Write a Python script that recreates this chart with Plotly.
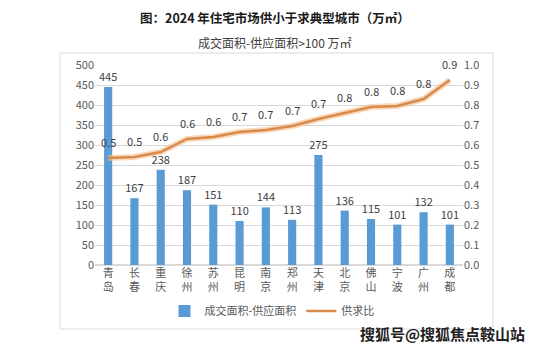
import plotly.graph_objects as go

cities = ["青岛", "长春", "重庆", "徐州", "苏州", "昆明", "南京", "郑州", "天津", "北京", "佛山", "宁波", "广州", "成都"]
gap_area = [445, 167, 238, 187, 151, 110, 144, 113, 275, 136, 115, 101, 132, 101]
ratio = [0.535, 0.54, 0.565, 0.63, 0.64, 0.665, 0.675, 0.695, 0.73, 0.76, 0.79, 0.795, 0.83, 0.925]

tick_text = ["<br>".join(list(c)) for c in cities]
FONT = "Noto Sans CJK SC"
GRAY = "#595959"

fig = go.Figure()
fig.add_trace(go.Bar(
    x=cities, y=gap_area, name="成交面积-供应面积",
    marker=dict(color="#5B9BD5", line=dict(width=0)),
    text=[str(v) for v in gap_area], textposition="outside", constraintext="none",
    textfont=dict(size=11, color="#404040", family=FONT),
    cliponaxis=False, yaxis="y",
))
# glow underlay
fig.add_trace(go.Scatter(
    x=cities, y=ratio, mode="lines", yaxis="y2",
    line=dict(color="rgba(247,190,140,0.6)", width=6),
    showlegend=False, hoverinfo="skip",
))
fig.add_trace(go.Scatter(
    x=cities, y=ratio, name="供求比", mode="lines", yaxis="y2",
    line=dict(color="#D98B4E", width=2.5),
    cliponaxis=False,
))

annotations = [
    dict(text="<b>图：2024 年住宅市场供小于求典型城市（万㎡）</b>", xref="paper", yref="paper",
         x=0.489, y=1.24, xanchor="center", yanchor="middle", showarrow=False,
         font=dict(size=12.5, color="#1a1a1a", family=FONT)),
    dict(text="成交面积-供应面积>100 万㎡", xref="paper", yref="paper",
         x=0.489, y=1.115, xanchor="center", yanchor="middle", showarrow=False,
         font=dict(size=12, color="#404040", family=FONT)),
    dict(text="<b>搜狐号@搜狐焦点鞍山站</b>", xref="paper", yref="paper",
         x=1.174, y=-0.34, xanchor="right", yanchor="middle", showarrow=False,
         font=dict(size=15, color="#222222", family=FONT)),
]
for c, r in zip(cities, ratio):
    annotations.append(dict(
        text=f"{r:.1f}", x=c, y=r, xref="x", yref="y2", showarrow=False,
        yshift=16, font=dict(size=11, color="#404040", family=FONT)))

fig.update_layout(
    width=537, height=347,
    margin=dict(l=87, r=82, t=57, b=90, autoexpand=False),
    paper_bgcolor="white", plot_bgcolor="white",
    font=dict(family=FONT, size=11, color=GRAY),
    bargap=0.69,
    showlegend=True,
    legend=dict(orientation="h", x=0.481, xanchor="center", y=-0.23, yanchor="middle",
                font=dict(size=11, color=GRAY), traceorder="normal", itemwidth=30),
    xaxis=dict(tickmode="array", tickvals=cities, ticktext=tick_text, automargin=False,
               showgrid=False, showline=False, ticks="", tickangle=0,
               tickfont=dict(size=11, color=GRAY)),
    yaxis=dict(range=[0, 500], dtick=50, showgrid=True, gridcolor="#D9D9D9", automargin=False,
               gridwidth=1, zeroline=True, zerolinecolor="#D9D9D9", showline=False,
               ticks="", tickfont=dict(size=11, color=GRAY)),
    yaxis2=dict(range=[0, 1.0], dtick=0.1, tickformat=".1f", overlaying="y", automargin=False,
                side="right", showgrid=False, zeroline=False, showline=False,
                ticks="", tickfont=dict(size=11, color=GRAY)),
    shapes=[dict(type="rect", xref="paper", yref="paper", x0=-0.095, x1=1.0815,
                 y0=-0.32, y1=1.06, line=dict(color="#D9D9D9", width=1), layer="below")],
    annotations=annotations,
)

fig.write_html("out.html")
